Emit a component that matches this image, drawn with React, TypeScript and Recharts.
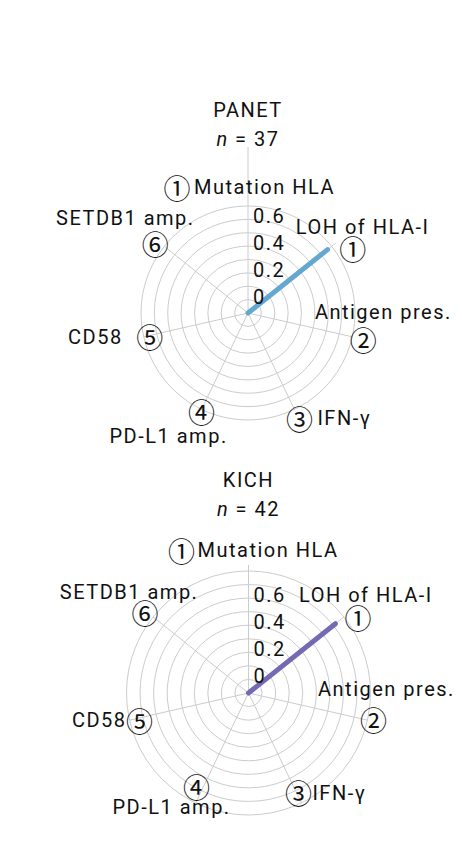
import { RadarChart, Radar, PolarGrid, PolarAngleAxis, PolarRadiusAxis } from "recharts"

const AXES = ["Mutation HLA", "LOH of HLA-I", "Antigen pres.", "IFN-γ", "PD-L1 amp.", "CD58", "SETDB1 amp."]
const AXIS_MARKS = ["①", "①", "②", "③", "④", "⑤", "⑥"]

// null = NA in the source; NA entries are drawn at the centre of the plot
const PANET_VALUES = [null, 0.66, null, null, null, null, null]
const KICH_VALUES = [null, 0.72, null, null, null, null, null]

const PANET_TICKS = [-0.1, 0, 0.1, 0.2, 0.3, 0.4, 0.5, 0.6, 0.7]
const KICH_TICKS = [-0.1, 0, 0.1, 0.2, 0.3, 0.4, 0.5, 0.6, 0.7, 0.8]
const TICK_LABELS = [0, 0.2, 0.4, 0.6]

const FONT = "Roboto, sans-serif"
const MARK_FONT = "'Noto Sans CJK JP', 'DejaVu Sans', sans-serif"
const GRID = "#cccccc"

type Anchor = "start" | "middle" | "end"
interface LabelPos {
  mark: [number, number] // nudge of the circled number from the outer ring point
  text: [number, number] // text position relative to the circled number
  anchor: Anchor
}

const PANET_LABELS: LabelPos[] = [
  { mark: [-71, -19], text: [17, 0], anchor: "start" },
  { mark: [21, 2], text: [10, -21], anchor: "middle" },
  { mark: [11, 3], text: [20, -28], anchor: "middle" },
  { mark: [5, 9], text: [18, 0], anchor: "start" },
  { mark: [0, 2], text: [-33, 25], anchor: "middle" },
  { mark: [6, 0], text: [-27, 0], anchor: "end" },
  { mark: [-9, -3], text: [-30, -25], anchor: "middle" },
]

const KICH_LABELS: LabelPos[] = [
  { mark: [-67, -21], text: [16, 0], anchor: "start" },
  { mark: [14, 1], text: [8, -23], anchor: "middle" },
  { mark: [6, -1], text: [13, -30], anchor: "middle" },
  { mark: [-3, -10], text: [14, 0], anchor: "start" },
  { mark: [1, -16], text: [-25, 20], anchor: "middle" },
  { mark: [10, 0], text: [-13, 0], anchor: "end" },
  { mark: [-8, -4], text: [-16, -21], anchor: "middle" },
]

interface PanelProps {
  title: string
  n: number
  values: (number | null)[]
  ticks: number[]
  color: string
  labels: LabelPos[]
  top: number
  height: number
  cx: number
  cy: number
  radius: number
  titleY: number
  topSpoke: number
}

function RadarPanel({ title, n, values, ticks, color, labels, top, height, cx, cy, radius, titleY, topSpoke }: PanelProps) {
  const rMin = ticks[0]
  const data = AXES.map((axis, i) => ({ axis, value: values[i] ?? rMin }))

  const angleTick = (props: any) => {
    const { payload } = props
    const index = props.index ?? AXES.indexOf(payload.value)
    const l = labels[index]
    const rad = (-payload.coordinate * Math.PI) / 180
    const ux = Math.cos(rad)
    const uy = Math.sin(rad)
    const mx = cx + radius * ux + l.mark[0]
    const my = cy + radius * uy + l.mark[1]
    const dist = Math.hypot(mx - cx, my - cy)
    // the grid draws spokes up to the outer ring; extend them out to the labels
    const len = index === 0 ? topSpoke : Math.max(radius, dist - 11)
    return (
      <g>
        {len > radius && (
          <line
            x1={cx + radius * ux}
            y1={cy + radius * uy}
            x2={cx + len * ux}
            y2={cy + len * uy}
            stroke={GRID}
            strokeWidth={1}
          />
        )}
        <text x={mx} y={my} textAnchor="middle" dominantBaseline="central" fontFamily={MARK_FONT} fontSize={27} fill="#111">
          {AXIS_MARKS[index]}
        </text>
        <text
          x={mx + l.text[0]}
          y={my + l.text[1]}
          textAnchor={l.anchor}
          dominantBaseline="central"
          fontFamily={FONT}
          fontSize={20}
          letterSpacing={1.5}
          fill="#111"
        >
          {payload.value}
        </text>
      </g>
    )
  }

  const radiusTick = (props: any) => {
    const { x, y, payload } = props
    if (!TICK_LABELS.some((t) => Math.abs(t - payload.value) < 1e-9)) return <g />
    return (
      <text x={x + 5} y={y - 3} dominantBaseline="central" fontFamily={FONT} fontSize={20} letterSpacing={1.5} fill="#111">
        {String(payload.value)}
      </text>
    )
  }

  return (
    <div style={{ position: "absolute", left: 0, top, width: 462, height }}>
      <div
        style={{
          position: "absolute",
          left: cx - 100,
          top: titleY - 14,
          width: 200,
          textAlign: "center",
          fontFamily: FONT,
          fontSize: 20,
          letterSpacing: 1.5,
          lineHeight: "29px",
          color: "#111",
        }}
      >
        <div>{title}</div>
        <div>
          <i>n</i> = {n}
        </div>
      </div>
      <RadarChart
        width={462}
        height={height}
        data={data}
        cx={cx}
        cy={cy}
        outerRadius={radius}
        margin={{ top: 0, right: 0, bottom: 0, left: 0 }}
        style={{ position: "absolute", left: 0, top: 0 }}
      >
        <PolarGrid gridType="circle" stroke={GRID} />
        <PolarAngleAxis dataKey="axis" tick={angleTick} axisLine={false} tickLine={false} />
        <PolarRadiusAxis
          angle={90}
          type="number"
          domain={[ticks[0], ticks[ticks.length - 1]]}
          allowDataOverflow
          allowDecimals
          tickCount={ticks.length}
          ticks={ticks as any}
          tick={radiusTick}
          axisLine={false}
          tickLine={false}
        />
        <Radar
          dataKey="value"
          stroke={color}
          strokeWidth={5}
          strokeLinejoin="round"
          strokeLinecap="round"
          fill="none"
          fillOpacity={0}
          dot={false}
          isAnimationActive={false}
        />
      </RadarChart>
    </div>
  )
}

export default function App() {
  return (
    <div style={{ position: "absolute", left: 0, top: 0, width: 462, height: 851, background: "#fff" }}>
      <RadarPanel
        title="PANET"
        n={37}
        values={PANET_VALUES}
        ticks={PANET_TICKS}
        color="#64a8d0"
        labels={PANET_LABELS}
        top={0}
        height={455}
        cx={248}
        cy={313}
        radius={107}
        titleY={110}
        topSpoke={166}
      />
      <RadarPanel
        title="KICH"
        n={42}
        values={KICH_VALUES}
        ticks={KICH_TICKS}
        color="#7569b3"
        labels={KICH_LABELS}
        top={455}
        height={396}
        cx={248.5}
        cy={238}
        radius={122}
        titleY={25}
        topSpoke={128}
      />
    </div>
  )
}
